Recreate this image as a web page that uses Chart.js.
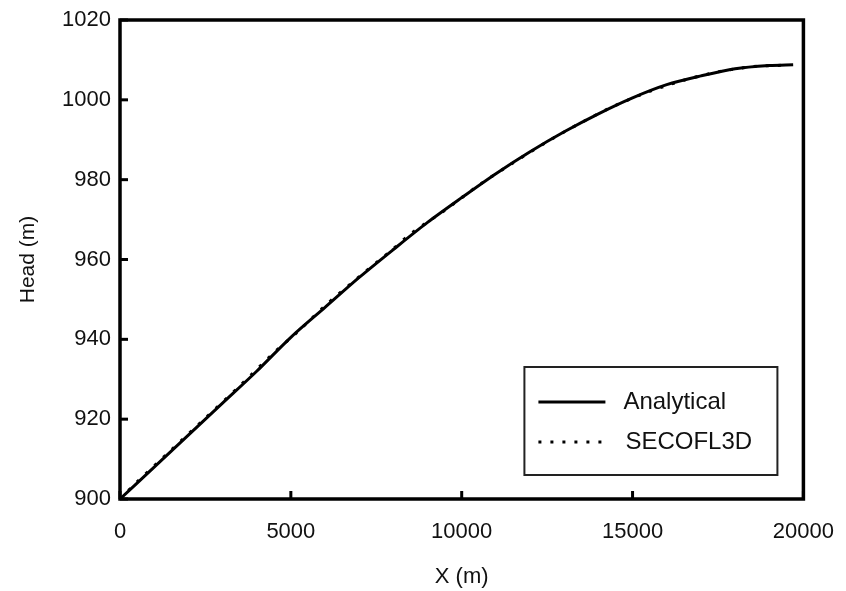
<!DOCTYPE html>
<html>
<head>
<meta charset="utf-8">
<script src="https://cdn.jsdelivr.net/npm/chart.js@4.4.1/dist/chart.umd.min.js"></script>
<style>
  html, body { margin: 0; padding: 0; background: #fff; }
  #wrap { width: 846px; height: 591px; }
</style>
</head>
<body>
<div id="wrap"><canvas id="grafico"></canvas></div>
<script>
// Distância ao longo do perfil (m)
const distancias = [0, 1000, 2000, 3000, 4000, 5000, 6000, 7000, 8000, 9000, 10000,
    11000, 12000, 13000, 14000, 15000, 16000, 17000, 18000, 19000, 19700];

// Carga hidráulica - solução analítica (m)
const cargaAnalitica = [900, 908, 916, 924, 932, 940.5, 948, 955.5, 962.5, 969.3, 975.5,
    981.5, 987, 992, 996.5, 1000.5, 1003.8, 1006, 1007.8, 1008.6, 1008.8];

// Carga hidráulica - modelo numérico SECOFL3D (m)
const distanciasNum = [0, 500, 1500, 2500, 3500, 4500, 5200, 6000, 7000, 8000, 8500,
    9500, 10500, 11500, 12500, 13500, 14500, 15500, 16500, 17500, 18500, 19500];
const cargaNumerica = [900, 904.3, 912.3, 920.3, 928.3, 936.6, 941.9, 948.4, 955.7, 962.7, 966.4,
    972.3, 978.6, 984.2, 989.5, 994.3, 998.6, 1002.1, 1004.9, 1007, 1008.3, 1008.7];

const ticksX = [0, 5000, 10000, 15000, 20000];
const ticksY = [900, 920, 940, 960, 980, 1000, 1020];

const fonte = "'Liberation Sans', Arial, sans-serif";

function pares(xs, ys) {
    return xs.map((x, i) => ({ x: x, y: ys[i] }));
}

// Moldura, marcas internas dos eixos e legenda dentro da área do gráfico
const molduraPlugin = {
    id: 'moldura',
    afterDraw(chart) {
        const ctx = chart.ctx;
        const a = chart.chartArea;
        const sx = chart.scales.x;
        const sy = chart.scales.y;
        ctx.save();
        ctx.strokeStyle = '#000';
        ctx.lineWidth = 3.5;
        ctx.strokeRect(a.left, a.top, a.right - a.left, a.bottom - a.top);

        ctx.lineWidth = 3;
        ticksX.forEach(v => {
            const px = sx.getPixelForValue(v);
            ctx.beginPath();
            ctx.moveTo(px, a.bottom);
            ctx.lineTo(px, a.bottom - 8);
            ctx.stroke();
        });
        ticksY.forEach(v => {
            const py = sy.getPixelForValue(v);
            ctx.beginPath();
            ctx.moveTo(a.left, py);
            ctx.lineTo(a.left + 8, py);
            ctx.stroke();
        });

        // legenda
        const bx = a.right - 279, by = a.bottom - 132, bw = 253, bh = 108;
        ctx.fillStyle = '#fff';
        ctx.fillRect(bx, by, bw, bh);
        ctx.lineWidth = 2;
        ctx.strokeStyle = '#222';
        ctx.strokeRect(bx, by, bw, bh);

        ctx.font = '24px ' + fonte;
        ctx.fillStyle = '#111';
        ctx.textBaseline = 'middle';
        chart.data.datasets.forEach((ds, i) => {
            const ly = by + 35 + i * 40;
            ctx.beginPath();
            ctx.strokeStyle = '#000';
            ctx.lineWidth = ds.borderWidth;
            ctx.setLineDash(ds.borderDash || []);
            ctx.moveTo(bx + 14, ly);
            ctx.lineTo(bx + 81, ly);
            ctx.stroke();
            ctx.setLineDash([]);
            ctx.fillText(ds.label, bx + 99 + i * 2, ly);
        });
        ctx.restore();
    }
};

function criarGrafico() {
    const ctx = document.getElementById('grafico').getContext('2d');
    new Chart(ctx, {
        type: 'scatter',
        data: {
            datasets: [{
                label: 'Analytical',
                data: pares(distancias, cargaAnalitica),
                showLine: true,
                borderColor: '#000',
                borderWidth: 3,
                pointRadius: 0,
                tension: 0.3
            }, {
                label: 'SECOFL3D',
                data: pares(distanciasNum, cargaNumerica),
                showLine: true,
                borderColor: '#000',
                borderWidth: 3,
                borderDash: [3, 9],
                pointRadius: 0,
                tension: 0.3
            }]
        },
        options: {
            responsive: true,
            maintainAspectRatio: false,
            animation: false,
            layout: { padding: { top: 20, right: 28, left: 0, bottom: 0 } },
            plugins: {
                legend: { display: false },
                tooltip: { enabled: false }
            },
            scales: {
                x: {
                    type: 'linear',
                    min: 0,
                    max: 20000,
                    afterBuildTicks(scale) { scale.ticks = ticksX.map(v => ({ value: v })); },
                    afterFit(scale) { scale.height = 92; },
                    grid: { display: false },
                    border: { display: false },
                    ticks: {
                        color: '#111',
                        padding: 12,
                        maxRotation: 0,
                        callback: v => String(v),
                        font: { family: fonte, size: 22 }
                    },
                    title: {
                        display: true,
                        text: 'X (m)',
                        color: '#111',
                        padding: { top: 0, bottom: 1 },
                        font: { family: fonte, size: 22 }
                    }
                },
                y: {
                    type: 'linear',
                    min: 900,
                    max: 1020,
                    afterBuildTicks(scale) { scale.ticks = ticksY.map(v => ({ value: v })); },
                    afterFit(scale) { scale.width = 120; },
                    grid: { display: false },
                    border: { display: false },
                    ticks: {
                        color: '#111',
                        padding: 1,
                        callback: v => String(v),
                        font: { family: fonte, size: 22 }
                    },
                    title: {
                        display: true,
                        text: 'Head (m)',
                        color: '#111',
                        padding: { top: 16, bottom: 0 },
                        font: { family: fonte, size: 21 }
                    }
                }
            }
        },
        plugins: [molduraPlugin]
    });
}

document.addEventListener('DOMContentLoaded', () => {
    criarGrafico();
});
</script>
</body>
</html>
